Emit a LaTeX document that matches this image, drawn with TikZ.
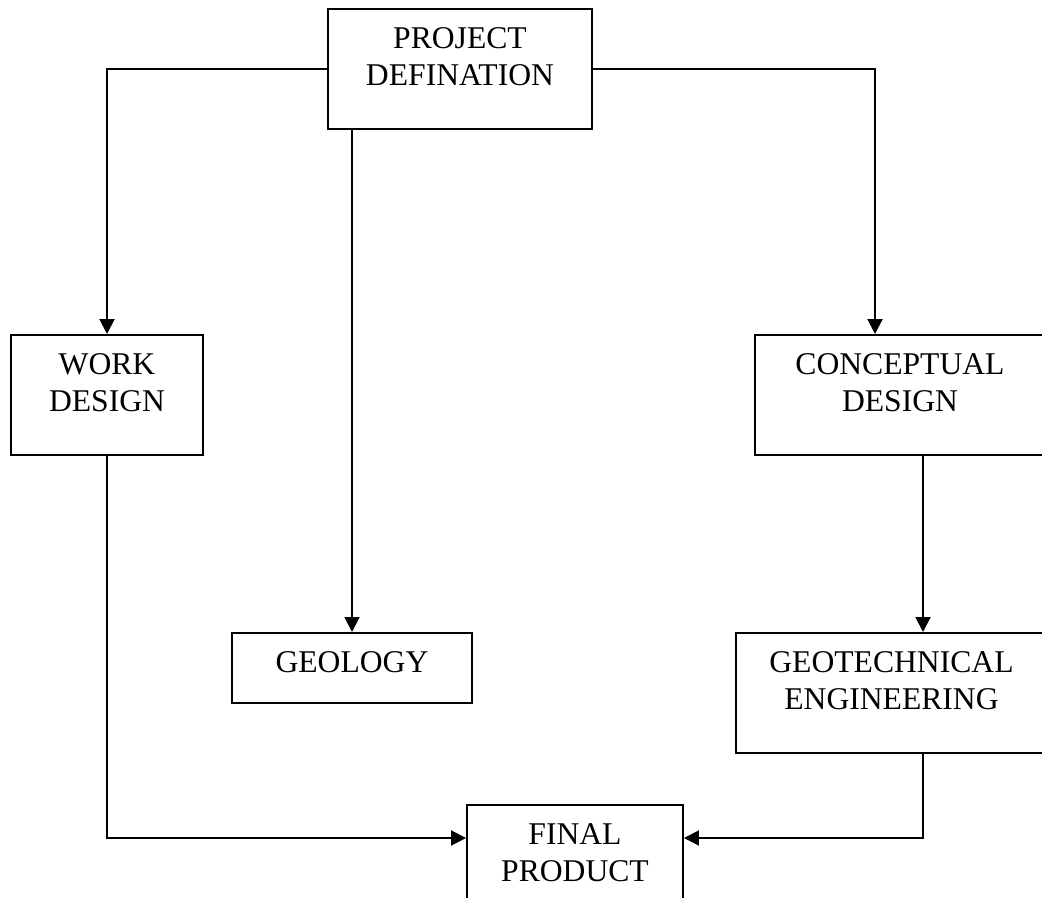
\documentclass[tikz,border=0pt]{standalone}
\usepackage{fontspec}
\setmainfont{Liberation Serif}
\usetikzlibrary{arrows.meta}
\begin{document}
\begin{tikzpicture}
      \tikzstyle{block}=[draw,rectangle,line width=1.1pt,inner sep=0pt,align=center,text height=0.8cm,font=\fontsize{18}{21}\selectfont]
      \tikzstyle{edge}=[draw,line width=1.1pt,-{Triangle[width=0.3cm,length=0.3cm]}]
      \useasboundingbox (0,0) rectangle (20.84,-17.96);
      \node[block,anchor=north,text width=5.28cm,text depth=1.6cm] (PD) at (9.2,-0.16) {PROJECT\\DEFINATION};
      \node[block,anchor=north,text width=3.84cm,text depth=1.6cm] (WD) at (2.14,-6.68) {WORK\\DESIGN};
      \node[block,anchor=north,text width=5.8cm,text depth=1.6cm] (CD) at (18.0,-6.68) {CONCEPTUAL\\DESIGN};
      \node[block,anchor=north,text width=4.8cm,text depth=0.6cm] (GE) at (7.04,-12.64) {GEOLOGY};
      \node[block,anchor=north,text width=6.22cm,text depth=1.6cm] (GT) at (17.83,-12.64) {GEOTECHNICAL\\ENGINEERING};
      \node[block,anchor=north,text width=4.32cm,text depth=1.6cm] (FP) at (11.5,-16.08) {FINAL\\PRODUCT};
      \coordinate (CDin) at (17.5,-6.68);
      \coordinate (CDout) at (18.46,-9.08);
      \coordinate (FPin) at (11.5,-16.76);
      \path[edge] (PD.west) -| (WD.north);
      \path[edge] (PD.east) -| (CDin);
      \path[edge] (PD.south -| GE.north) -- (GE.north);
      \path[edge] (CDout) -- (CDout |- GT.north);
      \path[edge] (WD.south) |- (FPin -| FP.west);
      \path[edge] (CDout |- GT.south) |- (FPin -| FP.east);
    \end{tikzpicture}
\end{document}
